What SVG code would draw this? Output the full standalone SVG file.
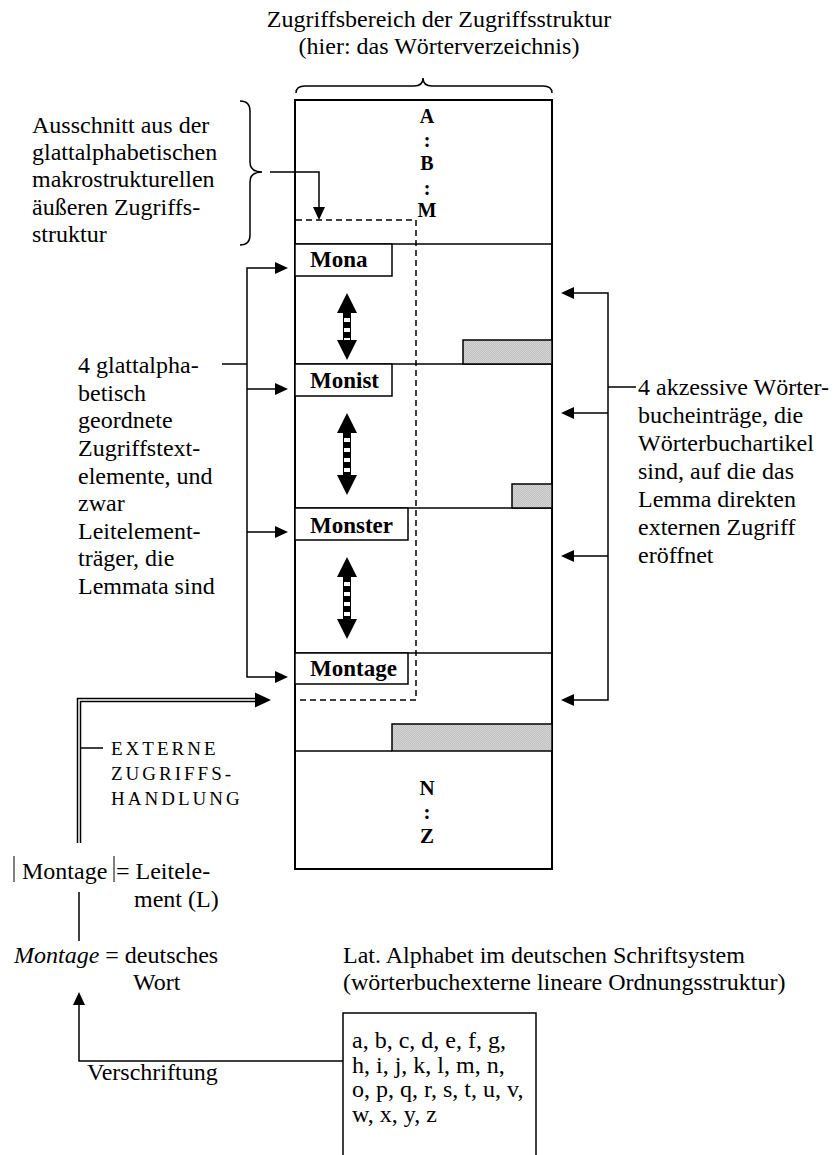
<svg xmlns="http://www.w3.org/2000/svg" width="834" height="1155" viewBox="0 0 834 1155">
<style>
text{font-family:"Liberation Serif","Times New Roman",serif;font-size:24px;fill:#000}
.b{font-weight:bold;font-size:23px}
.l{font-weight:bold;font-size:20px;text-anchor:middle}
.caps{font-size:19px;letter-spacing:3px}
.ln{fill:none;stroke:#000;stroke-width:1.5}
.box{fill:#fff;stroke:#000;stroke-width:1.5}
.gray{fill:url(#hatch);stroke:#000;stroke-width:1.5}
.dash{fill:none;stroke:#000;stroke-width:1.5;stroke-dasharray:6 4}
.head{fill:#000}
</style>
<defs>
<pattern id="hatch" width="2" height="2" patternUnits="userSpaceOnUse">
<rect width="2" height="2" fill="#d4d4d4"/>
<path d="M0,2 L2,0" stroke="#b4b4b4" stroke-width="0.6"/>
</pattern>
</defs>

<g id="title">
<text x="439" y="27" text-anchor="middle">Zugriffsbereich der Zugriffsstruktur</text>
<text x="439" y="54" text-anchor="middle">(hier: das Wörterverzeichnis)</text>
<path class="ln" d="M296,93 Q296,86 305,86 L414,86 Q423,86 423,78 Q423,86 432,86 L543,86 Q552,86 552,93"/>
</g>

<g id="structure">
<rect x="295" y="100" width="257" height="769" fill="#fff" stroke="#000" stroke-width="2"/>
<line class="ln" x1="295" y1="244" x2="552" y2="244"/>
<line class="ln" x1="295" y1="364" x2="552" y2="364"/>
<line class="ln" x1="295" y1="508" x2="552" y2="508"/>
<line class="ln" x1="295" y1="653" x2="552" y2="653"/>
<line class="ln" x1="295" y1="751" x2="392" y2="751"/>
<rect class="gray" x="463" y="340" width="89" height="24"/>
<rect class="gray" x="512" y="484" width="40" height="24"/>
<rect class="gray" x="392" y="724" width="160" height="27"/>
<text class="l" x="427" y="123">A</text>
<text class="l" x="427" y="147">:</text>
<text class="l" x="427" y="170">B</text>
<text class="l" x="427" y="195">:</text>
<text class="l" x="427" y="217">M</text>
<text class="l" x="427" y="795" style="font-size:21px">N</text>
<text class="l" x="427" y="819" style="font-size:21px">:</text>
<text class="l" x="427" y="843" style="font-size:21px">Z</text>
<path class="dash" d="M296,220 H416 V700 H296"/>
</g>

<g id="lemma-mona">
<rect class="box" x="295" y="244" width="97" height="32"/>
<text class="b" x="310" y="267">Mona</text>
</g>
<g id="lemma-monist">
<rect class="box" x="295" y="364" width="97" height="32"/>
<text class="b" x="310" y="388">Monist</text>
</g>
<g id="lemma-monster">
<rect class="box" x="295" y="508" width="113" height="32"/>
<text class="b" x="310" y="533">Monster</text>
</g>
<g id="lemma-montage">
<rect class="box" x="295" y="653" width="113" height="31"/>
<text class="b" x="310" y="676">Montage</text>
</g>

<g id="order-arrows">
<rect x="343.5" y="312" width="7" height="29" fill="#fff" stroke="#000" stroke-width="1"/>
<line x1="347" y1="312" x2="347" y2="341" stroke="#000" stroke-width="6" stroke-dasharray="6 4"/>
<polygon class="head" points="347,293 357,313 337,313"/>
<polygon class="head" points="347,360 357,340 337,340"/>
<rect x="343.5" y="432" width="7" height="44" fill="#fff" stroke="#000" stroke-width="1"/>
<line x1="347" y1="432" x2="347" y2="476" stroke="#000" stroke-width="6" stroke-dasharray="6 4"/>
<polygon class="head" points="347,413 357,433 337,433"/>
<polygon class="head" points="347,495 357,475 337,475"/>
<rect x="343.5" y="576" width="7" height="44" fill="#fff" stroke="#000" stroke-width="1"/>
<line x1="347" y1="576" x2="347" y2="620" stroke="#000" stroke-width="6" stroke-dasharray="6 4"/>
<polygon class="head" points="347,557 357,577 337,577"/>
<polygon class="head" points="347,639 357,619 337,619"/>
</g>

<g id="label-ausschnitt">
<text x="32" y="133">Ausschnitt aus der</text>
<text x="32" y="160">glattalphabetischen</text>
<text x="32" y="187">makrostrukturellen</text>
<text x="32" y="215">äußeren Zugriffs-</text>
<text x="32" y="242">struktur</text>
<path class="ln" d="M240,101 Q250,101 250,111 L250,162 Q250,172 262,172 Q250,172 250,182 L250,235 Q250,245 240,245"/>
</g>

<g id="label-zugriffstext">
<text x="78" y="373">4 glattalpha-</text>
<text x="78" y="401">betisch</text>
<text x="78" y="428">geordnete</text>
<text x="78" y="456">Zugriffstext-</text>
<text x="78" y="484">elemente, und</text>
<text x="78" y="511">zwar</text>
<text x="78" y="539">Leitelement-</text>
<text x="78" y="566">träger, die</text>
<text x="78" y="594">Lemmata sind</text>
</g>

<g id="label-akzessiv">
<text x="638" y="395">4 akzessive Wörter-</text>
<text x="638" y="423">bucheinträge, die</text>
<text x="638" y="451">Wörterbuchartikel</text>
<text x="638" y="479">sind, auf die das</text>
<text x="638" y="507">Lemma direkten</text>
<text x="638" y="535">externen Zugriff</text>
<text x="638" y="563">eröffnet</text>
</g>

<g id="label-externe">
<text class="caps" x="111" y="755">EXTERNE</text>
<text class="caps" x="111" y="780">ZUGRIFFS-</text>
<text class="caps" x="111" y="805">HANDLUNG</text>
</g>

<g id="label-leitelement">
<line x1="14" y1="856" x2="14" y2="882" stroke="#000" stroke-width="1"/>
<text x="22" y="879">Montage</text>
<line x1="114" y1="856" x2="114" y2="882" stroke="#000" stroke-width="1"/>
<text x="116" y="879">= Leitele-</text>
<text x="134" y="907">ment (L)</text>
</g>

<g id="label-wort">
<text x="14" y="963"><tspan font-style="italic">Montage</tspan> = deutsches</text>
<text x="133" y="990">Wort</text>
</g>

<g id="label-alphabet">
<text x="343" y="963">Lat. Alphabet im deutschen Schriftsystem</text>
<text x="343" y="990">(wörterbuchexterne lineare Ordnungsstruktur)</text>
</g>

<g id="alphabet-box">
<path class="ln" d="M343,1156 V1013 H536 V1156"/>
<text x="352" y="1048">a, b, c, d, e, f, g,</text>
<text x="352" y="1073">h, i, j, k, l, m, n,</text>
<text x="352" y="1097">o, p, q, r, s, t, u, v,</text>
<text x="352" y="1122">w, x, y, z</text>
</g>

<g id="label-verschriftung">
<text x="87" y="1080">Verschriftung</text>
</g>

<g id="connectors">
<path class="ln" d="M270,172 H319 V208"/>
<polygon class="head" points="319,220 313,207 325,207"/>
<path class="ln" d="M222,364 H247"/>
<path class="ln" d="M276,268 H247 V677 H276"/>
<path class="ln" d="M247,389 H276 M247,532 H276"/>
<polygon class="head" points="288,268 275,262 275,274"/>
<polygon class="head" points="288,389 275,383 275,395"/>
<polygon class="head" points="288,532 275,526 275,538"/>
<polygon class="head" points="288,677 275,671 275,683"/>
<path class="ln" d="M636,387 H608"/>
<path class="ln" d="M573,293 H608 V700 H573"/>
<path class="ln" d="M608,413 H573 M608,556 H573"/>
<polygon class="head" points="561,293 574,287 574,299"/>
<polygon class="head" points="561,413 574,407 574,419"/>
<polygon class="head" points="561,556 574,550 574,562"/>
<polygon class="head" points="561,700 574,694 574,706"/>
<path d="M79,843 V700 H257" fill="none" stroke="#000" stroke-width="4.5"/>
<path d="M79,844 V700 H258" fill="none" stroke="#fff" stroke-width="1.5"/>
<polygon class="head" points="271,700 255,692.5 255,707.5"/>
<line class="ln" x1="81" y1="748" x2="103" y2="748"/>
<line class="ln" x1="79" y1="892" x2="79" y2="941"/>
<path class="ln" d="M343,1061 H79 V1004"/>
<polygon class="head" points="79,992 73,1005 85,1005"/>
</g>
</svg>
